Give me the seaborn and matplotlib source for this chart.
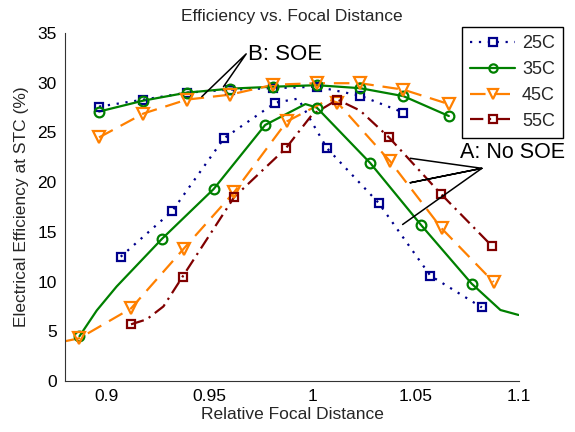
import numpy as np
import pandas as pd
import matplotlib
matplotlib.use("Agg")
import matplotlib.pyplot as plt
import seaborn as sns
from matplotlib.lines import Line2D

sns.set_theme(style="white")
plt.rcParams['font.family'] = ['Liberation Sans', 'DejaVu Sans']

# ---------------- data ----------------
series = ["25C", "35C", "45C", "55C"]

# B: SOE (markers)
soe_25_x = [0.8965, 0.918, 0.939, 0.960, 0.981, 1.002, 1.023, 1.044]
soe_25_y = [27.6, 28.3, 29.0, 29.3, 29.45, 29.6, 28.7, 27.0]
soe_35_x = [0.8965, 0.918, 0.939, 0.960, 0.981, 1.002, 1.023, 1.044, 1.066]
soe_35_y = [27.1, 28.2, 29.0, 29.4, 29.6, 29.75, 29.45, 28.65, 26.65]
soe_45_x = [0.8965, 0.918, 0.939, 0.960, 0.981, 1.002, 1.023, 1.044, 1.066]
soe_45_y = [24.5, 26.9, 28.3, 28.8, 29.8, 29.95, 29.95, 29.3, 27.85]
soe_55_x = []
soe_55_y = []

# A: No SOE (markers)
nosoe_25_x = [0.907, 0.932, 0.957, 0.982, 1.007, 1.032, 1.057, 1.082]
nosoe_25_y = [12.5, 17.1, 24.4, 28.0, 23.4, 17.9, 10.6, 7.4]
nosoe_35_x = [0.887, 0.927, 0.952, 0.977, 1.002, 1.028, 1.0525, 1.077]
nosoe_35_y = [4.5, 14.3, 19.3, 25.75, 27.5, 21.9, 15.7, 9.8]
nosoe_45_x = [0.887, 0.912, 0.9375, 0.962, 0.9875, 1.012, 1.0375, 1.0625, 1.0877]
nosoe_45_y = [4.3, 7.3, 13.3, 19.0, 26.1, 28.0, 22.1, 15.35, 9.95]
nosoe_55_x = [0.912, 0.937, 0.962, 0.987, 1.012, 1.037, 1.062, 1.087]
nosoe_55_y = [5.7, 10.5, 18.5, 23.4, 28.3, 24.5, 18.85, 13.55]

# fitted curves (A: No SOE)
curve_25_x = [0.907, 0.932, 0.957, 0.982, 0.993, 1.007, 1.032, 1.057, 1.082]
curve_25_y = [12.5, 17.1, 24.4, 28.0, 28.4, 23.4, 17.9, 10.6, 7.4]
curve_35_x = [0.887, 0.8954, 0.905, 0.927, 0.952, 0.977, 0.9965, 1.002, 1.028, 1.0525, 1.077, 1.091, 1.0998]
curve_35_y = [4.5, 7.1, 9.5, 14.3, 19.3, 25.75, 27.85, 27.5, 21.9, 15.7, 9.8, 7.14, 6.64]
curve_45_x = [0.880, 0.887, 0.912, 0.9375, 0.962, 0.9875, 1.0077, 1.012, 1.0375, 1.0625, 1.0877]
curve_45_y = [4.0, 4.3, 7.3, 13.3, 19.0, 26.1, 28.3, 28.0, 22.1, 15.35, 9.95]
curve_55_x = [0.912, 0.9196, 0.9277, 0.937, 0.962, 0.987, 0.9996, 1.012, 1.023, 1.037, 1.062, 1.087]
curve_55_y = [5.7, 6.2, 7.5, 10.5, 18.5, 23.4, 26.75, 28.3, 27.2, 24.5, 18.85, 13.55]

x_ticks = [0.9, 0.95, 1.0, 1.05, 1.1]
x_tick_labels = ["0.9", "0.95", "1", "1.05", "1.1"]
y_ticks = [0, 5, 10, 15, 20, 25, 30, 35]

# annotation pointers
ann_b_x = [0.9463, 0.9678, 0.9568]
ann_b_y = [28.6, 32.9, 29.6]
ann_a_x = [1.0473, 1.0820, 1.0473, 1.0820, 1.0436]
ann_a_y = [22.4, 21.39, 19.94, 21.39, 15.74]

# ---------------- style ----------------
colors = {"25C": "#00008C", "35C": "#008000", "45C": "#FF8000", "55C": "#800000"}
lstyles = {"25C": (0, (1, 3)), "35C": "-", "45C": (0, (7, 4)), "55C": (0, (6, 2.5, 1, 2.5))}
markers = {"25C": "s", "35C": "o", "45C": "v", "55C": "s"}
msize = {"25C": 6, "35C": 7, "45C": 9, "55C": 6}
LW = 1.6

fig = plt.figure(figsize=(5.75, 4.32), dpi=100)
ax = fig.add_axes([65 / 575, 51 / 432, 454 / 575, 348 / 432])

soe = {"25C": (soe_25_x, soe_25_y), "35C": (soe_35_x, soe_35_y),
       "45C": (soe_45_x, soe_45_y), "55C": (soe_55_x, soe_55_y)}
nosoe = {"25C": (nosoe_25_x, nosoe_25_y), "35C": (nosoe_35_x, nosoe_35_y),
         "45C": (nosoe_45_x, nosoe_45_y), "55C": (nosoe_55_x, nosoe_55_y)}
curves = {"25C": (curve_25_x, curve_25_y), "35C": (curve_35_x, curve_35_y),
          "45C": (curve_45_x, curve_45_y), "55C": (curve_55_x, curve_55_y)}

for s in series:
    c = colors[s]
    for (xs, ys) in (soe[s], curves[s]):
        if len(xs) == 0:
            continue
        df = pd.DataFrame({"x": xs, "y": ys})
        sns.lineplot(data=df, x="x", y="y", ax=ax, color=c, linewidth=LW,
                     linestyle=lstyles[s], sort=False, estimator=None, legend=False)
    for (xs, ys) in (soe[s], nosoe[s]):
        if len(xs) == 0:
            continue
        ax.plot(xs, ys, linestyle="none", marker=markers[s], markersize=msize[s],
                markerfacecolor="none", markeredgecolor=c, markeredgewidth=1.6, zorder=3)

# annotations
ax.plot(ann_b_x, ann_b_y, color="black", linewidth=1.1, zorder=4)
ax.plot(ann_a_x, ann_a_y, color="black", linewidth=1.1, zorder=4)
ax.text(0.9685, 32.3, "B: SOE", fontsize=16, ha="left", va="baseline", color="black")
ax.text(1.0715, 22.4, "A: No SOE", fontsize=15.5, ha="left", va="baseline", color="black", clip_on=False)

ax.set_xlim(0.88, 1.1)
ax.set_ylim(0, 35)
ax.set_xticks(x_ticks)
ax.set_xticklabels(x_tick_labels)
ax.set_yticks(y_ticks)
ax.tick_params(direction="in", length=4, width=0.8, labelsize=12.5, colors="black", pad=6)
for sp in ["top", "right"]:
    ax.spines[sp].set_visible(False)
for sp in ["left", "bottom"]:
    ax.spines[sp].set_color("#333333")
    ax.spines[sp].set_linewidth(0.8)

ax.set_xlabel("Relative Focal Distance", fontsize=12.5, labelpad=2)
ax.set_ylabel("Electrical Efficiency at STC (%)", fontsize=12.5, labelpad=6)
ax.set_title("Efficiency vs. Focal Distance", fontsize=12.5, pad=9)

handles = [Line2D([], [], color=colors[s], linestyle=lstyles[s], linewidth=LW,
                  marker=markers[s], markersize=msize[s] * 0.85, markerfacecolor="none",
                  markeredgecolor=colors[s], markeredgewidth=1.6) for s in series]
leg = fig.legend(handles, series, loc="upper right", bbox_to_anchor=(563 / 575, 1 - 27 / 432),
                 fontsize=13, frameon=True, fancybox=False, edgecolor="black", framealpha=1,
                 handlelength=2.5, labelspacing=0.49, borderpad=0.45, handletextpad=0.37,
                 numpoints=1, borderaxespad=0)
leg.get_frame().set_linewidth(1.0)

fig.savefig("out.png", dpi=100)
